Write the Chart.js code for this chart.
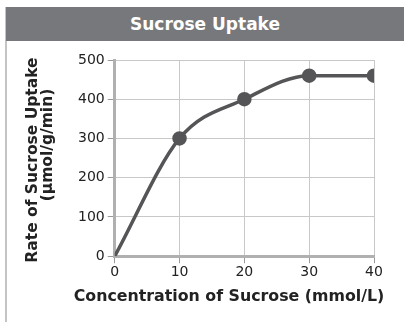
<!DOCTYPE html>
<html><head><meta charset="utf-8">
<script src="https://cdn.jsdelivr.net/npm/chart.js@4/dist/chart.umd.min.js"></script>
<style>
html,body{margin:0;padding:0;background:#fff;width:404px;height:322px;overflow:hidden;}
#wrap{position:relative;width:404px;height:322px;}
#bar{position:absolute;left:6px;top:7px;width:398px;height:34px;background:#77787b;color:#fff;
font:bold 17px "DejaVu Sans",sans-serif;text-align:center;line-height:34px;}
#edge{position:absolute;left:5px;top:7px;width:2px;height:315px;background:#c4c4c4;}
canvas{position:absolute;left:0;top:0;}
</style></head><body>
<div id="wrap">
<canvas id="c" width="404" height="322"></canvas>
<div id="edge"></div>
<div id="bar">Sucrose Uptake</div>
</div>
<script>
const concentration = [0, 10, 20, 30, 40];
const uptake = [0, 300, 400, 460, 460];
const xTicks = [0, 10, 20, 30, 40];
const yTicks = [0, 100, 200, 300, 400, 500];
const xTitle = 'Concentration of Sucrose (mmol/L)';
const yTitle = ['Rate of Sucrose Uptake', '(μmol/g/min)'];
const FONT = '"DejaVu Sans", sans-serif';

const axisTitles = {
  id: 'axisTitles',
  afterDraw(chart) {
    const ctx = chart.ctx;
    ctx.save();
    ctx.fillStyle = '#222';
    ctx.textAlign = 'center';
    ctx.textBaseline = 'middle';
    ctx.font = 'bold 15.8px ' + FONT;
    ctx.fillText(xTitle, 229, 297);
    ctx.font = 'bold 15.5px ' + FONT;
    ctx.save(); ctx.translate(33, 160); ctx.rotate(-Math.PI / 2); ctx.fillText(yTitle[0], 0, 0); ctx.restore();
    ctx.save(); ctx.translate(48, 145); ctx.rotate(-Math.PI / 2); ctx.fillText(yTitle[1], 0, 0); ctx.restore();
    ctx.restore();
  }
};

new Chart(document.getElementById('c'), {
  type: 'scatter',
  data: { datasets: [{
    data: concentration.map((x, i) => ({x: x, y: uptake[i]})),
    showLine: true, borderColor: '#555558', backgroundColor: '#555558', borderWidth: 3.5,
    pointRadius: [0, 5.5, 5.5, 5.5, 5.5], pointHoverRadius: 5.5, cubicInterpolationMode: 'monotone'
  }]},
  plugins: [axisTitles],
  options: {
    responsive: false, animation: false,
    layout: { padding: { top: 60, right: 30, left: 75, bottom: 40 } },
    plugins: { legend: { display: false }, tooltip: { enabled: false } },
    scales: {
      x: { type: 'linear', min: 0, max: 40,
        afterBuildTicks: a => { a.ticks = xTicks.map(v => ({value: v})); },
        grid: { color: '#c8c8c8', lineWidth: 1, drawTicks: true, tickLength: 7, tickColor: '#999' },
        border: { color: '#b0b0b0', width: 3 },
        ticks: { color: '#222', font: { family: FONT, size: 14 }, padding: 1 } },
      y: { min: 0, max: 500,
        afterBuildTicks: a => { a.ticks = yTicks.map(v => ({value: v})); },
        grid: { color: '#c8c8c8', lineWidth: 1, tickLength: 7, tickColor: '#999' },
        border: { color: '#b0b0b0', width: 3 },
        ticks: { color: '#222', font: { family: FONT, size: 14 }, padding: 3 } }
    }
  }
});
</script>
</body></html>
